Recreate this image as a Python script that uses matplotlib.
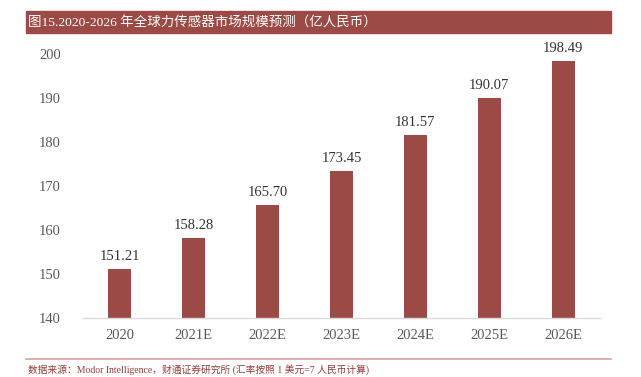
import matplotlib
matplotlib.use("Agg")
import matplotlib.pyplot as plt
from matplotlib.patches import Rectangle
from matplotlib.lines import Line2D

categories = ["2020", "2021E", "2022E", "2023E", "2024E", "2025E", "2026E"]
values = [151.21, 158.28, 165.70, 173.45, 181.57, 190.07, 198.49]
yticks = [140, 150, 160, 170, 180, 190, 200]

title = "图15.2020-2026 年全球力传感器市场规模预测（亿人民币）"
source = "数据来源：Modor Intelligence，财通证券研究所 (汇率按照 1 美元=7 人民币计算)"

bar_color = "#9C4A45"
serif = ["Liberation Serif", "Noto Sans CJK SC"]

fig = plt.figure(figsize=(6.41, 3.77), dpi=100)
ax = fig.add_axes([83/641, 1-318/377, (600-83)/641, (318-54)/377])

x = list(range(len(categories)))
ax.bar(x, values, width=0.31, bottom=0, color=bar_color, zorder=2)
for xi, v in zip(x, values):
    ax.text(xi, v + 1.3, f"{v:.2f}", ha="center", va="bottom",
            fontsize=10.5, color="#333333", family=serif)

ax.set_ylim(140, 200)
ax.set_xlim(-0.5, 6.5)
ax.set_yticks(yticks)
ax.set_yticklabels([str(t) for t in yticks], family=serif, fontsize=10.5, color="#595959")
ax.set_xticks(x)
ax.set_xticklabels(categories, family=serif, fontsize=10.5, color="#595959")
ax.tick_params(axis="both", length=0)
ax.tick_params(axis="x", pad=8)
ax.tick_params(axis="y", pad=16)
for s in ["top", "right", "left"]:
    ax.spines[s].set_visible(False)
ax.spines["bottom"].set_color("#D9D9D9")
ax.spines["bottom"].set_linewidth(1.0)

# title bar
fig.patches.append(Rectangle((26/641, 1-33/377), (611-26)/641, 22/377,
                             transform=fig.transFigure, color=bar_color, zorder=0))
fig.text(28/641, 1-22/377, title, color="white", fontsize=9.7, va="center", ha="left",
         family=serif)

# footer line and text
fig.add_artist(Line2D([26/641, 611/641], [1-359/377, 1-359/377], transform=fig.transFigure,
                      color="#D4A09D", linewidth=1.2))
fig.text(28/641, 1-370/377, source, color="#8E3F3A", fontsize=7.0, va="center", ha="left",
         family=serif)

fig.savefig("out.png", dpi=100)
